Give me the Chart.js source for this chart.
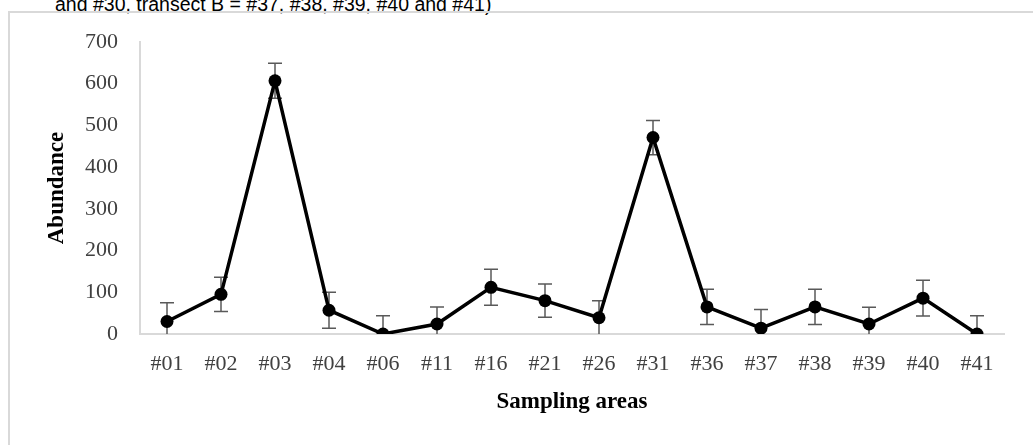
<!DOCTYPE html>
<html>
<head>
<meta charset="utf-8">
<script src="https://cdn.jsdelivr.net/npm/chart.js@4.4.1/dist/chart.umd.min.js"></script>
<style>
  html, body { margin: 0; padding: 0; background: #fff; overflow: hidden; }
  #caption {
    position: absolute; left: 55px; top: -6px;
    font: 19.5px/20px "Liberation Sans", Arial, sans-serif; color: #000; white-space: nowrap;
  }
  #frame {
    position: absolute; left: 8px; top: 11px; width: 1100px; height: 500px;
    border: 2px solid #d9d9d9; box-sizing: border-box;
  }
  #abundanceChart { position: absolute; left: 0; top: 0; }
</style>
</head>
<body>
<div id="caption">and #30, transect B = #37, #38, #39, #40 and #41)</div>
<div id="frame"></div>
<canvas id="abundanceChart" width="1033" height="445"></canvas>
<script>
// sampling areas and mean abundance
const areas = ['#01', '#02', '#03', '#04', '#06', '#11', '#16', '#21', '#26', '#31', '#36', '#37', '#38', '#39', '#40', '#41'];
const abundance = [30, 95, 607, 57, 0, 24, 112, 80, 39, 471, 65, 14, 65, 24, 86, 0];
const errors = [45, 41, 42, 43, 44, 41, 43, 40, 41, 41, 42, 45, 42, 40, 43, 44];
const yTicks = [0, 100, 200, 300, 400, 500, 600, 700];

// error bars drawn behind the line and markers
const errorBars = {
    id: 'errorBars',
    beforeDatasetsDraw(chart) {
        const { ctx, chartArea, scales: { x, y } } = chart;
        ctx.save();
        ctx.beginPath();
        ctx.rect(chartArea.left, chartArea.top, chartArea.right - chartArea.left, chartArea.bottom - chartArea.top);
        ctx.clip();
        ctx.strokeStyle = '#595959';
        ctx.lineWidth = 1.5;
        abundance.forEach((v, i) => {
            const px = x.getPixelForValue(i);
            const top = y.getPixelForValue(v + errors[i]);
            const bot = y.getPixelForValue(v - errors[i]);
            ctx.beginPath();
            ctx.moveTo(px, top); ctx.lineTo(px, bot);
            ctx.moveTo(px - 7, top); ctx.lineTo(px + 7, top);
            ctx.moveTo(px - 7, bot); ctx.lineTo(px + 7, bot);
            ctx.stroke();
        });
        ctx.restore();
    }
};

const serif = '"Liberation Serif", "Times New Roman", serif';

new Chart(document.getElementById('abundanceChart'), {
    type: 'line',
    data: {
        labels: areas,
        datasets: [{
            data: abundance,
            borderColor: '#000',
            backgroundColor: '#000',
            borderWidth: 3.5,
            pointRadius: 6.5,
            pointBackgroundColor: '#000',
            pointBorderWidth: 0,
            tension: 0
        }]
    },
    options: {
        responsive: false,
        animation: false,
        layout: { padding: { top: 42, right: 29, left: 0, bottom: 0 } },
        plugins: { legend: { display: false }, tooltip: { enabled: false } },
        scales: {
            x: {
                offset: true,
                grid: { display: false, drawTicks: false },
                border: { color: '#d9d9d9', width: 2 },
                ticks: { color: '#404040', padding: 17, font: { family: serif, size: 22 } },
                title: {
                    display: true, text: 'Sampling areas', color: '#000',
                    font: { family: serif, size: 23, weight: 'bold' },
                    padding: { top: 0, bottom: 29 }
                },
                afterFit(scale) { scale.height = 111; }
            },
            y: {
                min: 0, max: 700,
                afterBuildTicks(scale) { scale.ticks = yTicks.map(v => ({ value: v })); },
                grid: { display: false, drawTicks: false },
                border: { color: '#d9d9d9', width: 2 },
                ticks: { color: '#404040', padding: 22, font: { family: serif, size: 22 } },
                title: {
                    display: true, text: 'Abundance', color: '#000',
                    font: { family: serif, size: 23, weight: 'bold' },
                    padding: { top: 43, bottom: 0 }
                },
                afterFit(scale) { scale.width = 140; }
            }
        }
    },
    plugins: [errorBars]
});
</script>
</body>
</html>
